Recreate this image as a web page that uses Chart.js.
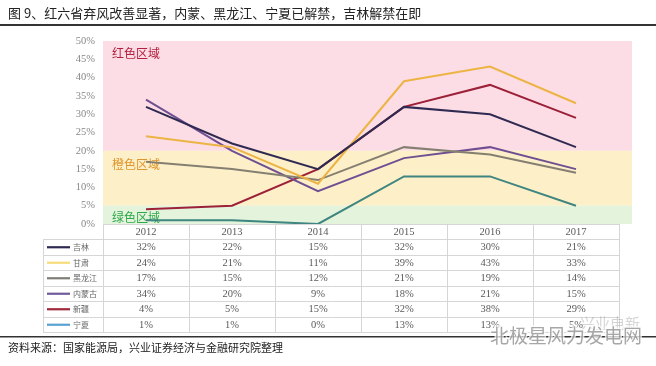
<!DOCTYPE html>
<html><head><meta charset="utf-8">
<script src="https://cdn.jsdelivr.net/npm/chart.js@4"></script>
<style>
html,body{margin:0;padding:0;background:#fff;}
#wrap{position:relative;width:656px;height:366px;}
canvas{position:absolute;left:0;top:0;}
</style></head>
<body><div id="wrap"><canvas id="c" width="656" height="366"></canvas></div>
<script>
const categories = ['2012','2013','2014','2015','2016','2017'];
const seriesNames = ['吉林','甘肃','黑龙江','内蒙古','新疆','宁夏'];
const jilin = [32,22,15,32,30,21];
const gansu = [24,21,11,39,43,33];
const heilongjiang = [17,15,12,21,19,14];
const neimenggu = [34,20,9,18,21,15];
const xinjiang = [4,5,15,32,38,29];
const ningxia = [1,1,0,13,13,5];
const yTicks = [0,5,10,15,20,25,30,35,40,45,50];
const zones = [
  {name:'红色区域', from:20, to:50, fill:'#fddde5', text:'#b3203f'},
  {name:'橙色区域', from:5, to:20, fill:'#fdf0c8', text:'#e0962e'},
  {name:'绿色区域', from:0, to:5, fill:'#e3f3dc', text:'#2ea84a'}
];
const titleText = '图 9、红六省弃风改善显著，内蒙、黑龙江、宁夏已解禁，吉林解禁在即';
const sourceText = '资料来源：国家能源局，兴业证券经济与金融研究院整理';

const allValues = [jilin,gansu,heilongjiang,neimenggu,xinjiang,ningxia];
const lineColors = ['#2f2a52','#ecb445','#857f72','#6f4f92','#9c2038','#3f8580'];
const legendColors = ['#2f2a52','#f7dc7a','#807c76','#6f5a9a','#a0283c','#5aa2d2'];

const CJK = '"Noto Sans CJK SC", sans-serif';
const SERIF = '"Liberation Serif", serif';

const bgPlugin = {
  id:'bg',
  beforeDatasetsDraw(chart){
    const {ctx, chartArea, scales:{y}} = chart;
    ctx.save();
    const right = chartArea.right + 13;
    zones.forEach(z=>{
      const t = y.getPixelForValue(z.to), b = y.getPixelForValue(z.from);
      ctx.fillStyle = z.fill;
      ctx.fillRect(chartArea.left, t, right-chartArea.left, b-t);
    });
    ctx.font = '12px ' + CJK;
    ctx.textBaseline = 'middle';
    ctx.textAlign = 'left';
    zones.forEach(z=>{
      ctx.fillStyle = z.text;
      const yy = y.getPixelForValue(z.to) + (z.to===50?12:(z.to===20?14:(y.getPixelForValue(0)-y.getPixelForValue(5))/2+3));
      ctx.fillText(z.name, chartArea.left+9, yy);
    });
    ctx.restore();
  }
};

const tablePlugin = {
  id:'table',
  afterDraw(chart){
    const {ctx, chartArea, scales:{x}} = chart;
    ctx.save();
    const colW = x.getPixelForValue(1) - x.getPixelForValue(0);
    const tLeft = 43, cLeft = chartArea.left, cRight = chartArea.right + 1;
    const top = chartArea.bottom, headH = 15, rowH = 15.5;
    const bottom = top + headH + rowH*allValues.length;
    ctx.strokeStyle = '#d6d6d6';
    ctx.lineWidth = 1;
    ctx.beginPath();
    ctx.moveTo(cLeft, top+0.5); ctx.lineTo(cRight, top+0.5);
    for(let r=0;r<=allValues.length;r++){
      const yy = Math.round(top+headH+rowH*r)+0.5;
      ctx.moveTo(tLeft, yy); ctx.lineTo(cRight, yy);
    }
    ctx.moveTo(tLeft+0.5, top+headH); ctx.lineTo(tLeft+0.5, bottom);
    for(let i=0;i<=categories.length;i++){
      const xx = Math.round(x.getPixelForValue(0) - colW/2 + colW*i)+0.5;
      ctx.moveTo(xx, top); ctx.lineTo(xx, bottom);
    }
    ctx.stroke();
    ctx.textBaseline = 'middle';
    ctx.textAlign = 'center';
    ctx.fillStyle = '#5a5a5a';
    ctx.font = '10.5px ' + SERIF;
    categories.forEach((c,i)=>{
      ctx.fillText(c, x.getPixelForValue(i), top+headH/2+1);
    });
    allValues.forEach((vals,r)=>{
      const cy = top+headH+rowH*r+rowH/2+0.5;
      vals.forEach((v,i)=>{
        ctx.fillText(v+'%', x.getPixelForValue(i), cy);
      });
      ctx.strokeStyle = legendColors[r];
      ctx.lineWidth = 2.2;
      ctx.beginPath(); ctx.moveTo(47, cy); ctx.lineTo(70, cy); ctx.stroke();
    });
    ctx.textAlign = 'left';
    ctx.font = '8px ' + CJK;
    ctx.fillStyle = '#666';
    seriesNames.forEach((n,r)=>{
      const cy = top+headH+rowH*r+rowH/2+0.5;
      ctx.fillText(n, 73, cy);
    });
    ctx.restore();
  }
};

const datasets = seriesNames.map((n,i)=>({
  label:n, data:allValues[i], borderColor:lineColors[i], backgroundColor:lineColors[i],
  borderWidth:2, pointRadius:0, tension:0, fill:false
}));

new Chart(document.getElementById('c'), {
  type:'line',
  data:{labels:categories, datasets},
  options:{
    responsive:false, animation:false,
    layout:{padding:{left:0,right:37,top:41,bottom:0}},
    plugins:{legend:{display:false}, tooltip:{enabled:false}, title:{display:false}},
    scales:{
      x:{offset:true, grid:{display:false, drawTicks:false}, border:{display:false},
         ticks:{display:false},
         afterFit(s){ s.height = 142; }},
      y:{min:0,max:50, afterBuildTicks(s){ s.ticks = yTicks.map(v=>({value:v})); },
         grid:{display:false, drawTicks:false}, border:{display:true,color:'#d8d8d8'},
         ticks:{padding:8, color:'#888', font:{family:'"Liberation Serif", serif', size:10.5},
                callback:v=>v+'%'},
         afterFit(s){ s.width = 103; }}
    }
  },
  plugins:[bgPlugin, tablePlugin, {
    id:'frame',
    afterDraw(chart){
      const ctx = chart.ctx;
      ctx.save();
      ctx.fillStyle = '#222';
      ctx.font = '13px ' + CJK;
      ctx.textBaseline = 'middle';
      ctx.textAlign = 'left';
      ctx.fillText(titleText, 8, 13);
      ctx.fillStyle = '#333';
      ctx.fillRect(0, 24, 656, 2);
      ctx.fillRect(0, 336, 656, 1.5);
      ctx.font = '11px ' + CJK;
      ctx.fillStyle = '#222';
      ctx.fillText(sourceText, 8, 348);
      ctx.globalAlpha = 0.35;
      ctx.fillStyle = '#888';
      ctx.font = '15px ' + CJK;
      ctx.fillText('兴业电新', 580, 323);
      ctx.globalAlpha = 0.75;
      ctx.font = '19px ' + CJK;
      ctx.lineWidth = 3; ctx.strokeStyle = '#fff';
      ctx.strokeText('北极星风力发电网', 490, 336);
      ctx.fillStyle = '#8a8a8a';
      ctx.fillText('北极星风力发电网', 490, 336);
      ctx.restore();
    }
  }]
});
</script></body></html>
